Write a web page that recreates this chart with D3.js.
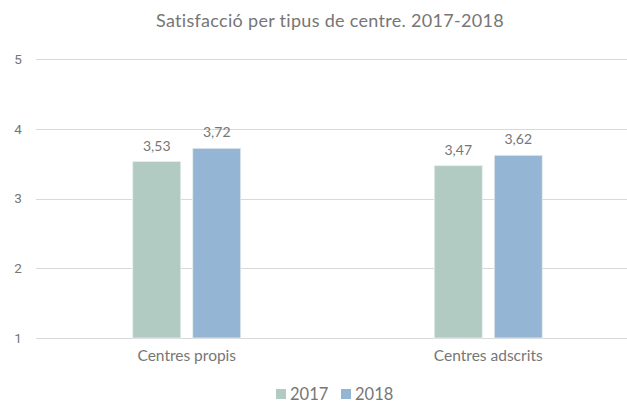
<!DOCTYPE html>
<html>
<head>
<meta charset="utf-8">
<script src="https://cdn.jsdelivr.net/npm/d3@7"></script>
<style>
  html, body { margin: 0; padding: 0; background: #fff; }
  svg { display: block; font-family: "Lato", "Open Sans", sans-serif; }
</style>
</head>
<body>
<svg id="chart" width="627" height="403"></svg>
<script>
const titleText = "Satisfacció per tipus de centre. 2017-2018";
const categories = ["Centres propis", "Centres adscrits"];
const seriesNames = ["2017", "2018"];
const values2017 = [3.53, 3.47];
const values2018 = [3.72, 3.62];
const yTicks = [1, 2, 3, 4, 5];
const colors = ["#b1cbc2", "#94b5d3"];

const W = 627, H = 403;
const svg = d3.select("#chart");
const textColor = "#767676";

const x0 = d3.scaleBand().domain(categories).range([36, 639]).padding(0);
const x1 = d3.scaleBand().domain(seriesNames).range([-54, 54]).paddingInner(0.2).paddingOuter(0);
const y = d3.scaleLinear().domain([1, 5]).range([338, 59]);

// title
svg.append("text")
  .attr("x", 330).attr("y", 27)
  .attr("text-anchor", "middle")
  .attr("fill", textColor)
  .attr("font-size", 18)
  .attr("letter-spacing", 0.3)
  .text(titleText);

// gridlines
svg.append("g").selectAll("line").data(yTicks).join("line")
  .attr("x1", 36).attr("x2", W)
  .attr("y1", d => Math.round(y(d)) + 0.5).attr("y2", d => Math.round(y(d)) + 0.5)
  .attr("stroke", "#d9d9d9").attr("stroke-width", 1);

// y axis labels
const yAxis = d3.axisLeft(y).tickValues(yTicks).tickSize(0).tickPadding(0).tickFormat(d3.format("d"));
const ya = svg.append("g").attr("transform", "translate(22,0)").call(yAxis);
ya.select(".domain").remove();
ya.selectAll("text").attr("fill", textColor).attr("font-size", 13.5)
  .attr("font-family", "Roboto, sans-serif").attr("text-anchor", "middle").attr("x", -4);

// bars
const data = categories.map((c, i) => ({
  cat: c,
  vals: [{s: "2017", v: values2017[i]}, {s: "2018", v: values2018[i]}]
}));
const fmt = v => d3.format(".2f")(v).replace(".", ",");

const groups = svg.append("g").selectAll("g").data(data).join("g")
  .attr("transform", d => `translate(${x0(d.cat) + x0.bandwidth() / 2},0)`);

groups.selectAll("rect").data(d => d.vals).join("rect")
  .attr("x", d => x1(d.s))
  .attr("width", x1.bandwidth())
  .attr("y", d => y(d.v))
  .attr("height", d => y(1) - y(d.v))
  .attr("fill", (d, i) => colors[i])
  .attr("stroke", "#e8eef0").attr("stroke-width", 0.8);

groups.selectAll("text.val").data(d => d.vals).join("text")
  .attr("class", "val")
  .attr("x", d => x1(d.s) + x1.bandwidth() / 2)
  .attr("y", d => y(d.v) - 11)
  .attr("text-anchor", "middle")
  .attr("fill", textColor)
  .attr("font-size", 14)
  .text(d => fmt(d.v));

// category labels
const xa = svg.append("g").attr("transform", "translate(0,338)")
  .call(d3.axisBottom(x0).tickSize(0).tickPadding(12));
xa.select(".domain").remove();
xa.selectAll("text").attr("fill", textColor).attr("font-size", 15.5)
  .attr("font-family", "Lato, sans-serif");

// legend
const legend = svg.append("g");
const legX = [276, 341];
seriesNames.forEach((s, i) => {
  legend.append("rect").attr("x", legX[i]).attr("y", 389).attr("width", 10).attr("height", 10)
    .attr("fill", colors[i]);
  legend.append("text").attr("x", legX[i] + 14).attr("y", 400)
    .attr("fill", textColor).attr("font-size", 16.5).text(s);
});
</script>
</body>
</html>
